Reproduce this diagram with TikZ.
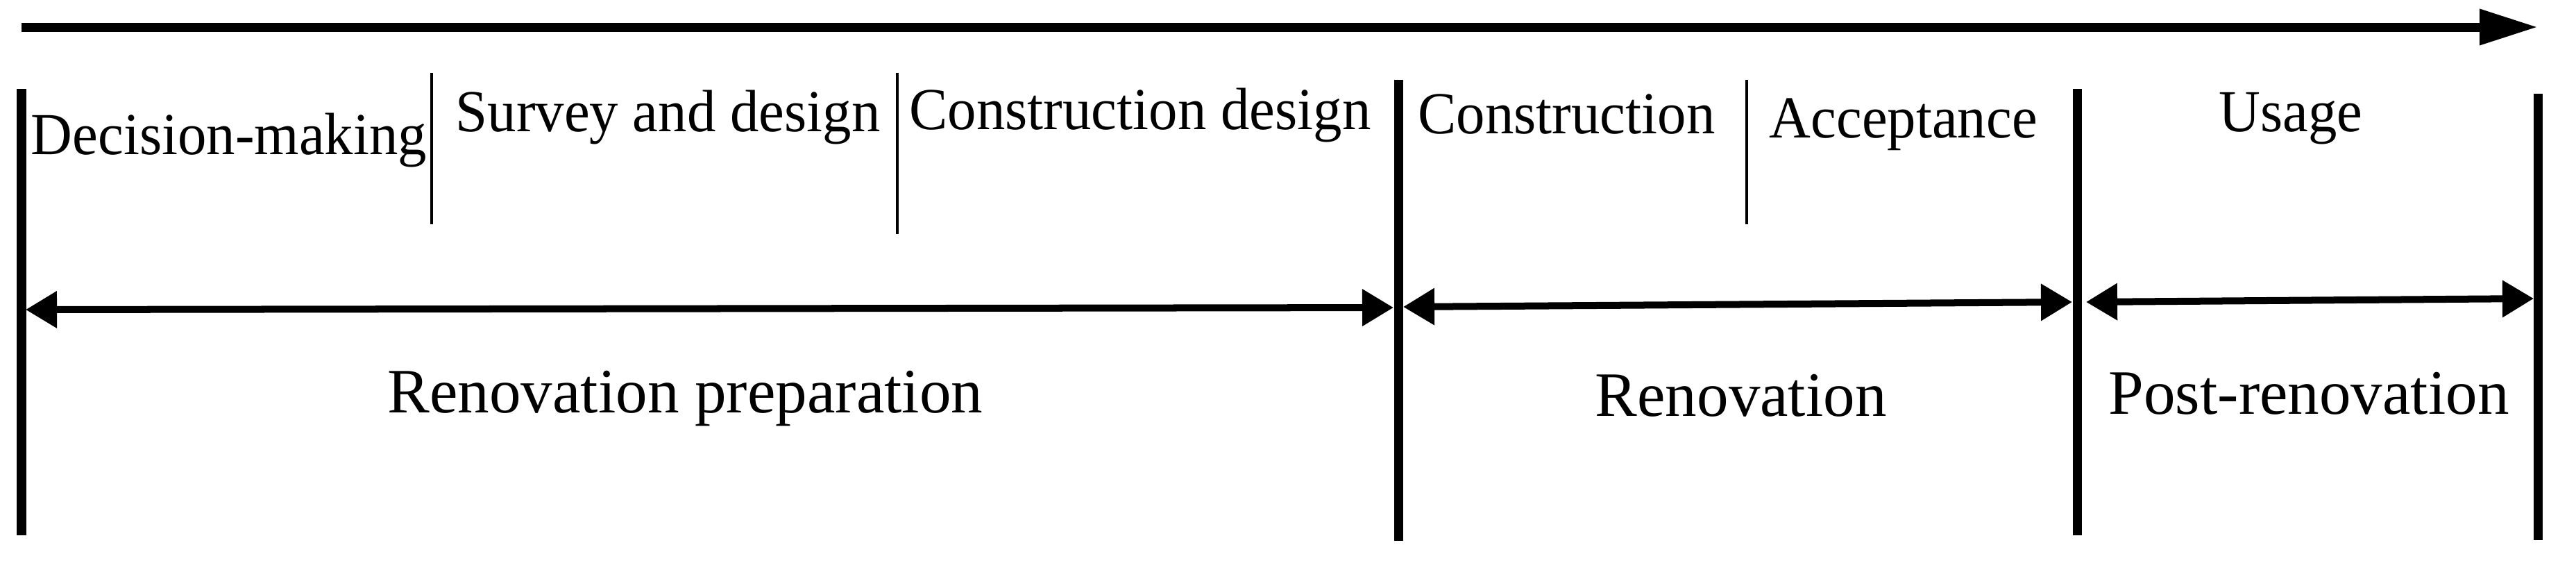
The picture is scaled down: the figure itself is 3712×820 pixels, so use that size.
\documentclass[tikz,border=0pt]{standalone}
\usepackage{fontspec}
\setmainfont{Liberation Serif}
\newfontfamily\narrowserif[FakeStretch=0.965]{Liberation Serif}
\usetikzlibrary{arrows.meta}
\begin{document}
\begin{tikzpicture}[x=0.01cm,y=-0.01cm,
  toplabel/.style={anchor=base west,inner sep=0pt,font=\narrowserif\fontsize{24.4}{29}\selectfont},
  botlabel/.style={anchor=base west,inner sep=0pt,font=\fontsize{25.9}{30}\selectfont},
  bigline/.style={line width=0.13cm},
  thinline/.style={line width=0.035cm},
  spanarrow/.style={line width=0.1cm,{Triangle[length=0.45cm,width=0.51cm]}-{Triangle[length=0.45cm,width=0.51cm]}},
  timearrow/.style={line width=0.13cm,-{Triangle[length=0.84cm,width=0.49cm]}}]
\useasboundingbox (0,0) rectangle (3712,820);
% time axis
\coordinate (t0) at (31,39);
\coordinate (t1) at (3657,39);
\draw[timearrow] (t0) -- (t1);
% major dividers
\coordinate (L1a) at (31,128);   \coordinate (L1b) at (31,771);
\coordinate (L2a) at (2015,115); \coordinate (L2b) at (2015,779);
\coordinate (L3a) at (2993,128); \coordinate (L3b) at (2993,771);
\coordinate (L4a) at (3657,135); \coordinate (L4b) at (3657,778);
\draw[bigline] (L1a) -- (L1b);
\draw[bigline] (L2a) -- (L2b);
\draw[bigline] (L3a) -- (L3b);
\draw[bigline] (L4a) -- (L4b);
% minor dividers
\coordinate (S1a) at (622,105);  \coordinate (S1b) at (622,323);
\coordinate (S2a) at (1293,105); \coordinate (S2b) at (1293,337);
\coordinate (S3a) at (2517,115); \coordinate (S3b) at (2517,323);
\draw[thinline] (S1a) -- (S1b);
\draw[thinline] (S2a) -- (S2b);
\draw[thinline] (S3a) -- (S3b);
% span arrows
\coordinate (A1a) at (37,446);   \coordinate (A1b) at (2008,443);
\coordinate (A2a) at (2022,442); \coordinate (A2b) at (2986,435);
\coordinate (A3a) at (3006,435); \coordinate (A3b) at (3651,430);
\draw[spanarrow] (A1a) -- (A1b);
\draw[spanarrow] (A2a) -- (A2b);
\draw[spanarrow] (A3a) -- (A3b);
% top labels
\node[toplabel] (dm) at (44,222) {Decision-making};
\node[toplabel] (sd) at (656,189) {Survey and design};
\node[toplabel] (cd) at (1310,186) {Construction design};
\node[toplabel] (co) at (2043,192) {Construction};
\node[toplabel] (ac) at (2549,198) {Acceptance};
\node[toplabel] (us) at (3197,189) {Usage};
% bottom labels
\node[botlabel] (rp) at (558,594) {Renovation preparation};
\node[botlabel] (rn) at (2298,599) {Renovation};
\node[botlabel] (pr) at (3038,596) {Post-renovation};
\end{tikzpicture}
\end{document}
